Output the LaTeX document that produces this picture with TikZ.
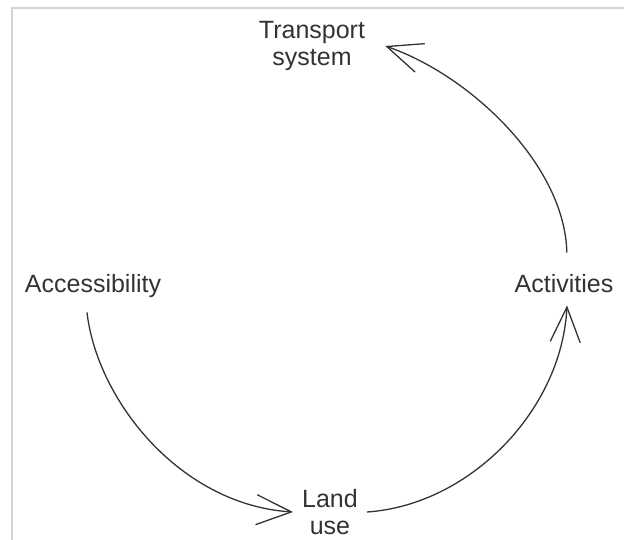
\documentclass[tikz,border=0pt]{standalone}
\usepackage{fontspec}
\setmainfont{Liberation Sans}
\usetikzlibrary{arrows.meta}
\definecolor{ink}{HTML}{333333}
\definecolor{frame}{HTML}{D4D4D4}
\tikzset{
  lbl/.style={text=ink, font=\fontsize{25}{27}\selectfont, align=center, inner sep=0pt},
  flow/.style={draw=ink, line width=1.3pt, -{Straight Barb[length=35pt, width=30pt, line width=1.3pt]}}
}
\begin{document}
\begin{tikzpicture}[x=1pt, y=-1pt]
\useasboundingbox (0,0) rectangle (624,540);
\draw[frame, line width=1.5pt] (12,540) -- (12,8) -- (624,8);
\node[lbl, inner xsep=20pt, inner ysep=2pt] (ts) at (312,46) {Transport\\system};
\node[lbl, anchor=base, inner ysep=15pt] (acc) at (93,292) {Accessibility};
\node[lbl, anchor=base, inner ysep=13pt] (act) at (564,292) {Activities};
\node[lbl, inner xsep=9pt] (lu) at (330,512) {Land\\use};
\draw[flow, shorten <=8pt] ([xshift=3pt]act.north) .. controls (565,165) and (470,75) .. (ts.east);
\draw[flow] ([xshift=-6pt]acc.south) .. controls (97,400) and (180,505) .. (lu.west);
\draw[flow] (lu.east) .. controls (470,505) and (562,410) .. ([xshift=3pt]act.south);
\end{tikzpicture}
\end{document}
